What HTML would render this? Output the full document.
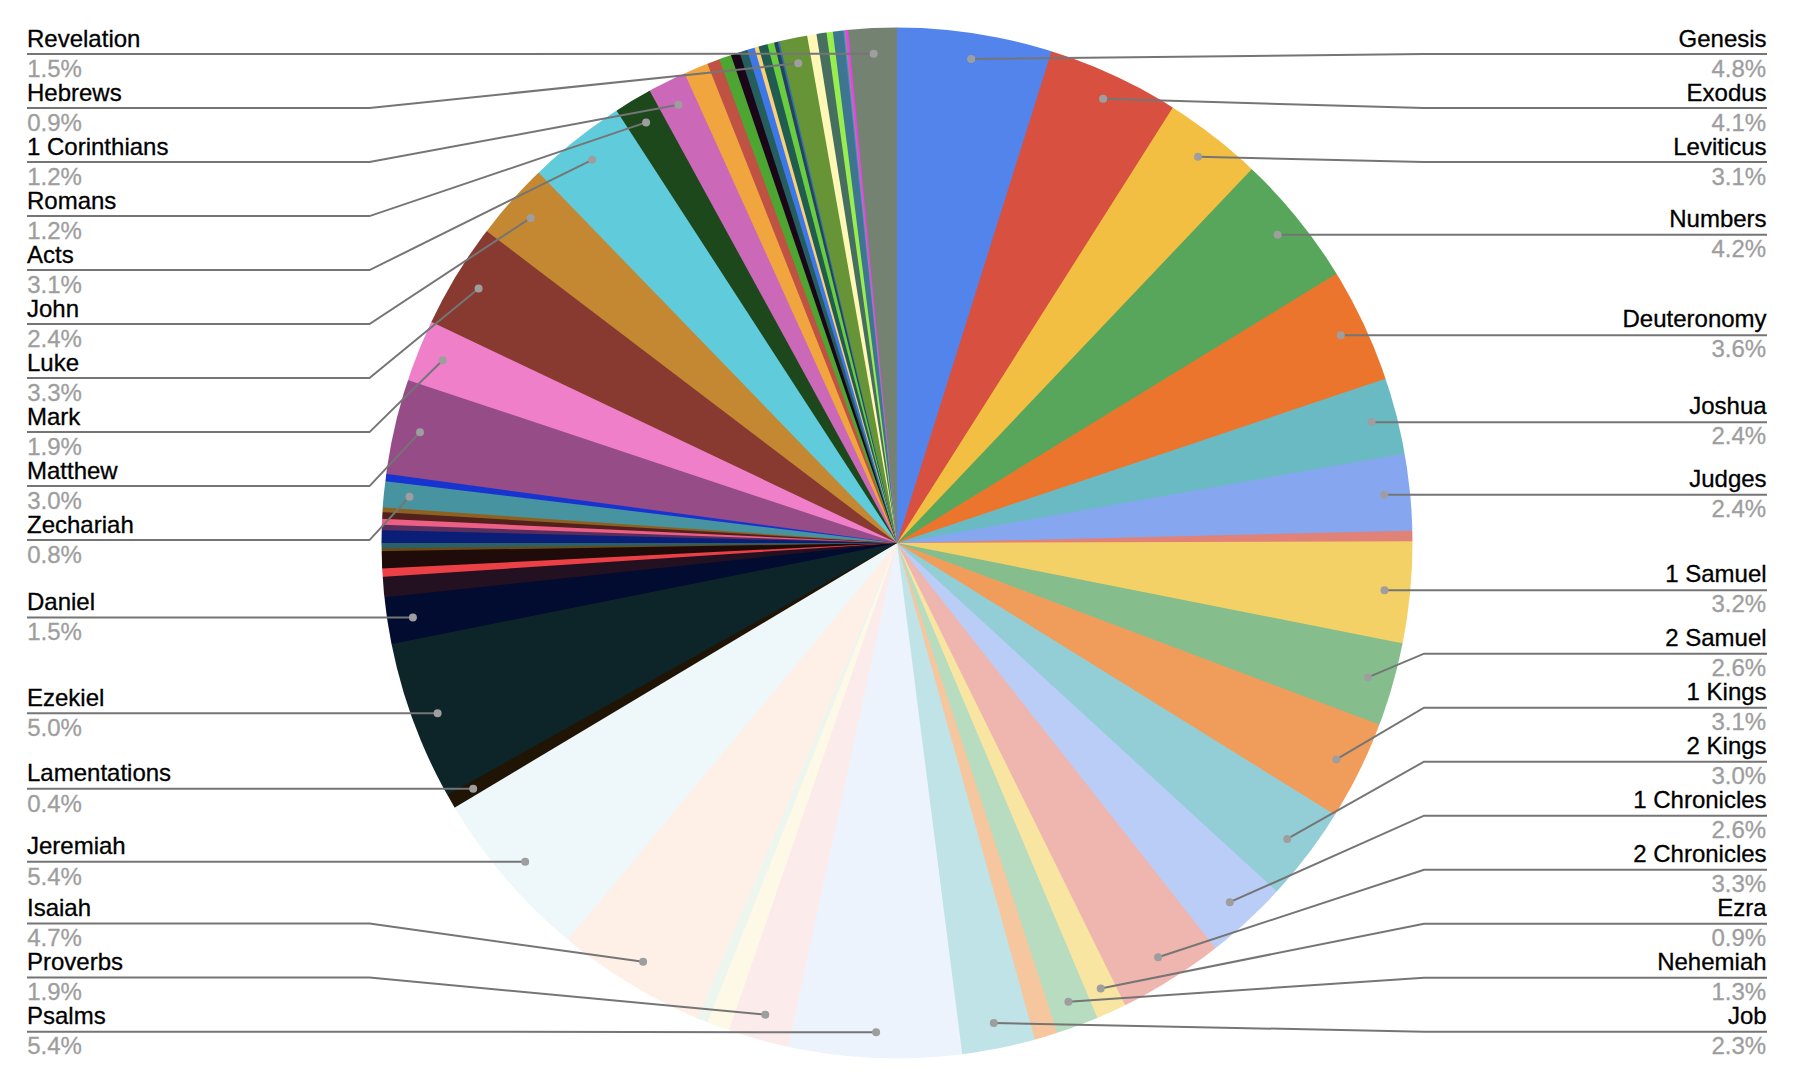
<!DOCTYPE html>
<html><head><meta charset="utf-8"><title>Chart</title>
<style>html,body{margin:0;padding:0;background:#fff}body{width:1802px;height:1084px;overflow:hidden}
svg{display:block}
text{font-family:"Liberation Sans",Arial,sans-serif;font-size:24px}
.n{fill:#000;stroke:#000;stroke-width:.3px}.p{fill:#9e9e9e;stroke:#9e9e9e;stroke-width:.3px}.e{text-anchor:end}
.l{fill:none;stroke:#757575;stroke-width:2}
.d{fill:#9e9e9e}
</style></head><body>
<svg width="1802" height="1084" viewBox="0 0 1802 1084">
<defs><mask id="pc" maskUnits="userSpaceOnUse" x="0" y="0" width="1802" height="1084"><circle cx="897.0" cy="543.0" r="515.5" fill="#fff"/></mask></defs>
<g mask="url(#pc)">
<circle cx="897.0" cy="543.0" r="521.5" fill="#5384EC"/>
<path d="M897.0,543.0L1053.30,45.47A521.5,521.5 0 1 1 897.0,21.5Z" fill="#D85140"/>
<path d="M897.0,543.0L1176.01,102.42A521.5,521.5 0 1 1 897.0,21.5Z" fill="#F2BF42"/>
<path d="M897.0,543.0L1255.96,164.70A521.5,521.5 0 1 1 897.0,21.5Z" fill="#58A65C"/>
<path d="M897.0,543.0L1341.70,270.59A521.5,521.5 0 1 1 897.0,21.5Z" fill="#EC752E"/>
<path d="M897.0,543.0L1391.31,376.80A521.5,521.5 0 1 1 897.0,21.5Z" fill="#6ABAC3"/>
<path d="M897.0,543.0L1410.58,452.44A521.5,521.5 0 1 1 897.0,21.5Z" fill="#86A7EF"/>
<path d="M897.0,543.0L1418.35,530.56A521.5,521.5 0 1 1 897.0,21.5Z" fill="#E08277"/>
<path d="M897.0,543.0L1418.50,541.23A521.5,521.5 0 1 1 897.0,21.5Z" fill="#F4D166"/>
<path d="M897.0,543.0L1408.51,644.58A521.5,521.5 0 1 1 897.0,21.5Z" fill="#85BE8C"/>
<path d="M897.0,543.0L1385.06,726.74A521.5,521.5 0 1 1 897.0,21.5Z" fill="#F09D5C"/>
<path d="M897.0,543.0L1340.16,817.91A521.5,521.5 0 1 1 897.0,21.5Z" fill="#93CED6"/>
<path d="M897.0,543.0L1281.24,895.60A521.5,521.5 0 1 1 897.0,21.5Z" fill="#BACDF7"/>
<path d="M897.0,543.0L1219.27,953.00A521.5,521.5 0 1 1 897.0,21.5Z" fill="#EEB6AF"/>
<path d="M897.0,543.0L1127.86,1010.62A521.5,521.5 0 1 1 897.0,21.5Z" fill="#F9E5A2"/>
<path d="M897.0,543.0L1099.77,1023.46A521.5,521.5 0 1 1 897.0,21.5Z" fill="#B7DCBF"/>
<path d="M897.0,543.0L1059.02,1038.69A521.5,521.5 0 1 1 897.0,21.5Z" fill="#F6C79E"/>
<path d="M897.0,543.0L1036.63,1045.46A521.5,521.5 0 1 1 897.0,21.5Z" fill="#BFE3E7"/>
<path d="M897.0,543.0L963.03,1060.30A521.5,521.5 0 1 1 897.0,21.5Z" fill="#ECF3FD"/>
<path d="M897.0,543.0L787.04,1052.77A521.5,521.5 0 0 1 897.0,21.5Z" fill="#FBECEB"/>
<path d="M897.0,543.0L726.98,1036.01A521.5,521.5 0 0 1 897.0,21.5Z" fill="#FEF8E7"/>
<path d="M897.0,543.0L705.27,1027.98A521.5,521.5 0 0 1 897.0,21.5Z" fill="#ECF5EE"/>
<path d="M897.0,543.0L695.06,1023.81A521.5,521.5 0 0 1 897.0,21.5Z" fill="#FEF0E7"/>
<path d="M897.0,543.0L564.12,944.44A521.5,521.5 0 0 1 897.0,21.5Z" fill="#EEF7FA"/>
<path d="M897.0,543.0L449.44,810.67A521.5,521.5 0 0 1 897.0,21.5Z" fill="#201505"/>
<path d="M897.0,543.0L442.08,797.97A521.5,521.5 0 0 1 897.0,21.5Z" fill="#0D2428"/>
<path d="M897.0,543.0L385.60,645.16A521.5,521.5 0 0 1 897.0,21.5Z" fill="#020B30"/>
<path d="M897.0,543.0L378.41,598.00A521.5,521.5 0 0 1 897.0,21.5Z" fill="#231021"/>
<path d="M897.0,543.0L376.62,577.18A521.5,521.5 0 0 1 897.0,21.5Z" fill="#EB4046"/>
<path d="M897.0,543.0L376.14,568.75A521.5,521.5 0 0 1 897.0,21.5Z" fill="#1F0B0A"/>
<path d="M897.0,543.0L375.57,551.25A521.5,521.5 0 0 1 897.0,21.5Z" fill="#6B4A14"/>
<path d="M897.0,543.0L375.53,548.47A521.5,521.5 0 0 1 897.0,21.5Z" fill="#2B6068"/>
<path d="M897.0,543.0L375.50,542.99A521.5,521.5 0 0 1 897.0,21.5Z" fill="#0A1E78"/>
<path d="M897.0,543.0L375.66,529.90A521.5,521.5 0 0 1 897.0,21.5Z" fill="#5A2E5C"/>
<path d="M897.0,543.0L375.83,524.57A521.5,521.5 0 0 1 897.0,21.5Z" fill="#EE5F85"/>
<path d="M897.0,543.0L376.08,518.45A521.5,521.5 0 0 1 897.0,21.5Z" fill="#52211D"/>
<path d="M897.0,543.0L376.44,511.75A521.5,521.5 0 0 1 897.0,21.5Z" fill="#8E6120"/>
<path d="M897.0,543.0L376.74,507.07A521.5,521.5 0 0 1 897.0,21.5Z" fill="#4793A0"/>
<path d="M897.0,543.0L379.27,480.44A521.5,521.5 0 0 1 897.0,21.5Z" fill="#1733D0"/>
<path d="M897.0,543.0L380.21,473.10A521.5,521.5 0 0 1 897.0,21.5Z" fill="#954C87"/>
<path d="M897.0,543.0L402.25,378.13A521.5,521.5 0 0 1 897.0,21.5Z" fill="#EE7FC8"/>
<path d="M897.0,543.0L425.92,319.30A521.5,521.5 0 0 1 897.0,21.5Z" fill="#883A30"/>
<path d="M897.0,543.0L481.82,227.42A521.5,521.5 0 0 1 897.0,21.5Z" fill="#C48832"/>
<path d="M897.0,543.0L534.36,168.22A521.5,521.5 0 0 1 897.0,21.5Z" fill="#60CBDB"/>
<path d="M897.0,543.0L613.20,105.48A521.5,521.5 0 0 1 897.0,21.5Z" fill="#1C481B"/>
<path d="M897.0,543.0L646.83,85.42A521.5,521.5 0 0 1 897.0,21.5Z" fill="#CC68B8"/>
<path d="M897.0,543.0L682.02,67.87A521.5,521.5 0 0 1 897.0,21.5Z" fill="#F1A53E"/>
<path d="M897.0,543.0L705.16,58.07A521.5,521.5 0 0 1 897.0,21.5Z" fill="#C05244"/>
<path d="M897.0,543.0L717.13,53.50A521.5,521.5 0 0 1 897.0,21.5Z" fill="#4CA631"/>
<path d="M897.0,543.0L728.98,49.31A521.5,521.5 0 0 1 897.0,21.5Z" fill="#1A0618"/>
<path d="M897.0,543.0L737.59,46.46A521.5,521.5 0 0 1 897.0,21.5Z" fill="#265D5D"/>
<path d="M897.0,543.0L745.44,44.01A521.5,521.5 0 0 1 897.0,21.5Z" fill="#3E78E8"/>
<path d="M897.0,543.0L752.77,41.84A521.5,521.5 0 0 1 897.0,21.5Z" fill="#FAD078"/>
<path d="M897.0,543.0L756.85,40.68A521.5,521.5 0 0 1 897.0,21.5Z" fill="#215C50"/>
<path d="M897.0,543.0L765.86,38.26A521.5,521.5 0 0 1 897.0,21.5Z" fill="#6ACD40"/>
<path d="M897.0,543.0L772.57,36.56A521.5,521.5 0 0 1 897.0,21.5Z" fill="#26405E"/>
<path d="M897.0,543.0L776.19,35.69A521.5,521.5 0 0 1 897.0,21.5Z" fill="#2E6FA8"/>
<path d="M897.0,543.0L777.93,35.27A521.5,521.5 0 0 1 897.0,21.5Z" fill="#679436"/>
<path d="M897.0,543.0L806.01,29.50A521.5,521.5 0 0 1 897.0,21.5Z" fill="#FFF7B5"/>
<path d="M897.0,543.0L815.46,27.91A521.5,521.5 0 0 1 897.0,21.5Z" fill="#466F60"/>
<path d="M897.0,543.0L825.64,26.41A521.5,521.5 0 0 1 897.0,21.5Z" fill="#98EE4F"/>
<path d="M897.0,543.0L832.04,25.56A521.5,521.5 0 0 1 897.0,21.5Z" fill="#3E7591"/>
<path d="M897.0,543.0L842.43,24.36A521.5,521.5 0 0 1 897.0,21.5Z" fill="#4285EE"/>
<path d="M897.0,543.0L843.66,24.23A521.5,521.5 0 0 1 897.0,21.5Z" fill="#A09650"/>
<path d="M897.0,543.0L844.88,24.11A521.5,521.5 0 0 1 897.0,21.5Z" fill="#F03CFA"/>
<path d="M897.0,543.0L847.39,23.86A521.5,521.5 0 0 1 897.0,21.5Z" fill="#748371"/>
</g>
<path class="l" d="M1767,54.1L1424,54.1L971.2,58.9"/>
<path class="l" d="M1767,108.1L1424,108.1L1103.1,98.8"/>
<path class="l" d="M1767,162.1L1424,162.1L1198.0,156.7"/>
<path class="l" d="M1767,234.8L1277.6,234.8"/>
<path class="l" d="M1767,335.3L1340.7,335.3"/>
<path class="l" d="M1767,422.15L1371.6,422.15"/>
<path class="l" d="M1767,494.8L1384.3,494.8"/>
<path class="l" d="M1767,590.2L1384.5,590.2"/>
<path class="l" d="M1767,653.7L1424,653.7L1367.9,677.4"/>
<path class="l" d="M1767,707.7L1424,707.7L1336.3,759.4"/>
<path class="l" d="M1767,761.7L1424,761.7L1287.2,838.9"/>
<path class="l" d="M1767,815.7L1424,815.7L1229.8,902.2"/>
<path class="l" d="M1767,869.7L1424,869.7L1158.1,957.3"/>
<path class="l" d="M1767,923.7L1424,923.7L1100.7,988.4"/>
<path class="l" d="M1767,977.7L1424,977.7L1068.4,1001.7"/>
<path class="l" d="M1767,1031.7L1424,1031.7L993.8,1023.1"/>
<path class="l" d="M27,1031.7L369.5,1031.7L876.1,1032.3"/>
<path class="l" d="M27,977.6L369.5,977.6L765.3,1014.7"/>
<path class="l" d="M27,923.6L369.5,923.6L643.1,961.8"/>
<path class="l" d="M27,861.8L525.2,861.8"/>
<path class="l" d="M27,788.75L473.2,788.75"/>
<path class="l" d="M27,713.3L437.6,713.3"/>
<path class="l" d="M27,617.4L412.9,617.4"/>
<path class="l" d="M27,540.1L369.5,540.1L409.5,496.7"/>
<path class="l" d="M27,486.1L369.5,486.1L420.0,432.3"/>
<path class="l" d="M27,432.1L369.5,432.1L442.7,360.2"/>
<path class="l" d="M27,378.1L369.5,378.1L478.6,288.4"/>
<path class="l" d="M27,324.1L369.5,324.1L530.7,217.9"/>
<path class="l" d="M27,270.1L369.5,270.1L592.1,159.8"/>
<path class="l" d="M27,216.1L369.5,216.1L646.1,122.4"/>
<path class="l" d="M27,162.1L369.5,162.1L678.4,104.8"/>
<path class="l" d="M27,108.1L369.5,108.1L798.3,63.3"/>
<path class="l" d="M27,54.1L369.5,54.1L873.7,53.8"/>
<circle class="d" cx="971.2" cy="58.9" r="4"/>
<circle class="d" cx="1103.1" cy="98.8" r="4"/>
<circle class="d" cx="1198.0" cy="156.7" r="4"/>
<circle class="d" cx="1277.6" cy="234.8" r="4"/>
<circle class="d" cx="1340.7" cy="335.3" r="4"/>
<circle class="d" cx="1371.6" cy="422.1" r="4"/>
<circle class="d" cx="1384.3" cy="494.8" r="4"/>
<circle class="d" cx="1384.5" cy="590.2" r="4"/>
<circle class="d" cx="1367.9" cy="677.4" r="4"/>
<circle class="d" cx="1336.3" cy="759.4" r="4"/>
<circle class="d" cx="1287.2" cy="838.9" r="4"/>
<circle class="d" cx="1229.8" cy="902.2" r="4"/>
<circle class="d" cx="1158.1" cy="957.3" r="4"/>
<circle class="d" cx="1100.7" cy="988.4" r="4"/>
<circle class="d" cx="1068.4" cy="1001.7" r="4"/>
<circle class="d" cx="993.8" cy="1023.1" r="4"/>
<circle class="d" cx="876.1" cy="1032.3" r="4"/>
<circle class="d" cx="765.3" cy="1014.7" r="4"/>
<circle class="d" cx="643.1" cy="961.8" r="4"/>
<circle class="d" cx="525.2" cy="861.8" r="4"/>
<circle class="d" cx="473.2" cy="788.8" r="4"/>
<circle class="d" cx="437.6" cy="713.3" r="4"/>
<circle class="d" cx="412.9" cy="617.4" r="4"/>
<circle class="d" cx="409.5" cy="496.7" r="4"/>
<circle class="d" cx="420.0" cy="432.3" r="4"/>
<circle class="d" cx="442.7" cy="360.2" r="4"/>
<circle class="d" cx="478.6" cy="288.4" r="4"/>
<circle class="d" cx="530.7" cy="217.9" r="4"/>
<circle class="d" cx="592.1" cy="159.8" r="4"/>
<circle class="d" cx="646.1" cy="122.4" r="4"/>
<circle class="d" cx="678.4" cy="104.8" r="4"/>
<circle class="d" cx="798.3" cy="63.3" r="4"/>
<circle class="d" cx="873.7" cy="53.8" r="4"/>
<text class="n e" x="1766.6" y="46.60">Genesis</text><text class="p e" x="1766.1" y="77.20">4.8%</text>
<text class="n e" x="1766.6" y="100.60">Exodus</text><text class="p e" x="1766.1" y="131.20">4.1%</text>
<text class="n e" x="1766.6" y="154.60">Leviticus</text><text class="p e" x="1766.1" y="185.20">3.1%</text>
<text class="n e" x="1766.6" y="226.50">Numbers</text><text class="p e" x="1766.1" y="256.80">4.2%</text>
<text class="n e" x="1766.6" y="327.00">Deuteronomy</text><text class="p e" x="1766.1" y="357.30">3.6%</text>
<text class="n e" x="1766.6" y="413.85">Joshua</text><text class="p e" x="1766.1" y="444.15">2.4%</text>
<text class="n e" x="1766.6" y="486.50">Judges</text><text class="p e" x="1766.1" y="516.80">2.4%</text>
<text class="n e" x="1766.6" y="581.90">1 Samuel</text><text class="p e" x="1766.1" y="612.20">3.2%</text>
<text class="n e" x="1766.6" y="645.80">2 Samuel</text><text class="p e" x="1766.1" y="676.20">2.6%</text>
<text class="n e" x="1766.6" y="699.80">1 Kings</text><text class="p e" x="1766.1" y="730.20">3.1%</text>
<text class="n e" x="1766.6" y="753.80">2 Kings</text><text class="p e" x="1766.1" y="784.20">3.0%</text>
<text class="n e" x="1766.6" y="807.80">1 Chronicles</text><text class="p e" x="1766.1" y="838.20">2.6%</text>
<text class="n e" x="1766.6" y="861.80">2 Chronicles</text><text class="p e" x="1766.1" y="892.20">3.3%</text>
<text class="n e" x="1766.6" y="915.80">Ezra</text><text class="p e" x="1766.1" y="946.20">0.9%</text>
<text class="n e" x="1766.6" y="969.80">Nehemiah</text><text class="p e" x="1766.1" y="1000.20">1.3%</text>
<text class="n e" x="1766.6" y="1023.80">Job</text><text class="p e" x="1766.1" y="1054.20">2.3%</text>
<text class="n" x="27" y="1023.80">Psalms</text><text class="p" x="27.2" y="1054.20">5.4%</text>
<text class="n" x="27" y="969.70">Proverbs</text><text class="p" x="27.2" y="1000.10">1.9%</text>
<text class="n" x="27" y="915.70">Isaiah</text><text class="p" x="27.2" y="946.10">4.7%</text>
<text class="n" x="27" y="854.20">Jeremiah</text><text class="p" x="27.2" y="884.60">5.4%</text>
<text class="n" x="27" y="781.15">Lamentations</text><text class="p" x="27.2" y="811.55">0.4%</text>
<text class="n" x="27" y="705.70">Ezekiel</text><text class="p" x="27.2" y="736.10">5.0%</text>
<text class="n" x="27" y="609.80">Daniel</text><text class="p" x="27.2" y="640.20">1.5%</text>
<text class="n" x="27" y="532.60">Zechariah</text><text class="p" x="27.2" y="563.20">0.8%</text>
<text class="n" x="27" y="478.60">Matthew</text><text class="p" x="27.2" y="509.20">3.0%</text>
<text class="n" x="27" y="424.60">Mark</text><text class="p" x="27.2" y="455.20">1.9%</text>
<text class="n" x="27" y="370.60">Luke</text><text class="p" x="27.2" y="401.20">3.3%</text>
<text class="n" x="27" y="316.60">John</text><text class="p" x="27.2" y="347.20">2.4%</text>
<text class="n" x="27" y="262.60">Acts</text><text class="p" x="27.2" y="293.20">3.1%</text>
<text class="n" x="27" y="208.60">Romans</text><text class="p" x="27.2" y="239.20">1.2%</text>
<text class="n" x="27" y="154.60">1 Corinthians</text><text class="p" x="27.2" y="185.20">1.2%</text>
<text class="n" x="27" y="100.60">Hebrews</text><text class="p" x="27.2" y="131.20">0.9%</text>
<text class="n" x="27" y="46.60">Revelation</text><text class="p" x="27.2" y="77.20">1.5%</text>
</svg>
</body></html>
